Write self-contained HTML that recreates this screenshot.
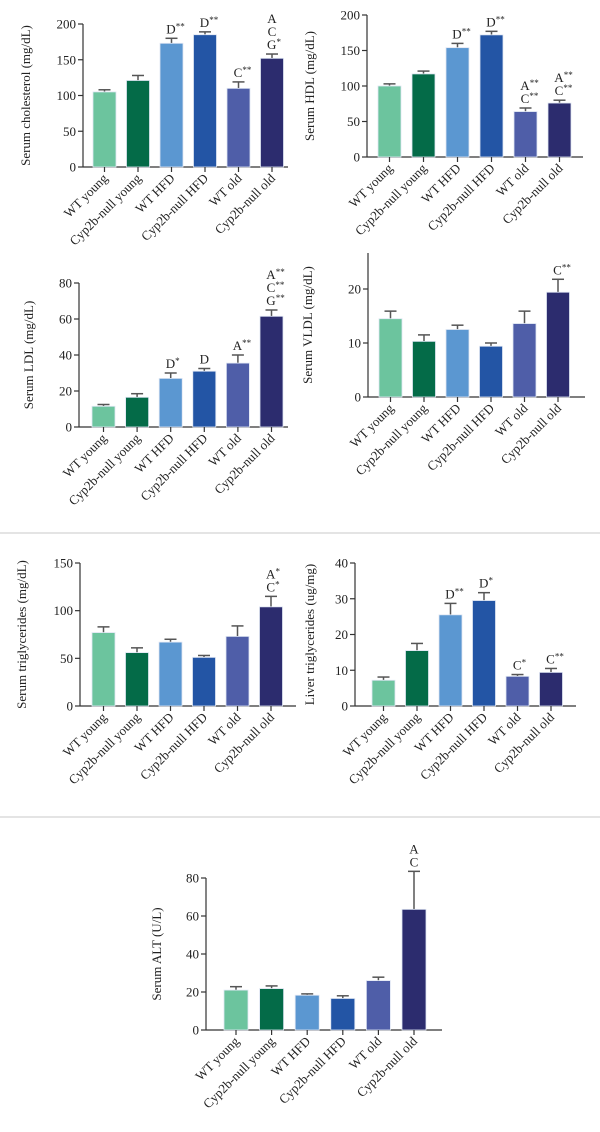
<!DOCTYPE html>
<html><head><meta charset="utf-8"><style>
html,body{margin:0;padding:0;background:#fff;}
svg{display:block;font-family:"Liberation Serif",serif;}
</style></head><body>
<svg id="root" width="600" height="1132" viewBox="0 0 600 1132" xmlns="http://www.w3.org/2000/svg">
<line x1="0" y1="533" x2="600" y2="533" stroke="#c8c8c8" stroke-width="1"/>
<line x1="0" y1="817" x2="600" y2="817" stroke="#c8c8c8" stroke-width="1"/>
</svg>
<script>
const categories = ["WT young","Cyp2b-null young","WT HFD","Cyp2b-null HFD","WT old","Cyp2b-null old"];
const colors = ["#6cc49e","#046b48","#5b97d1","#2355a5","#4f5ea8","#2c2c6e"];

const cholValues = [105,121,173,185,110,152];
const cholErrors = [3,7,7,4,9,6];
const cholTicks = [0,50,100,150,200];
const cholNotes = [[],[],["D**"],["D**"],["C**"],["A","C","G*"]];

const hdlValues = [100,117,154,172,64,76];
const hdlErrors = [3,4,6,5,5,4];
const hdlTicks = [0,50,100,150,200];
const hdlNotes = [[],[],["D**"],["D**"],["A**","C**"],["A**","C**"]];

const ldlValues = [11.5,16.5,27,31,35.5,61.5];
const ldlErrors = [1,2,3,1.5,4.5,3.5];
const ldlTicks = [0,20,40,60,80];
const ldlNotes = [[],[],["D*"],["D"],["A**"],["A**","C**","G**"]];

const vldlValues = [14.5,10.3,12.5,9.4,13.6,19.4];
const vldlErrors = [1.4,1.2,0.8,0.6,2.3,2.4];
const vldlTicks = [0,10,20];
const vldlNotes = [[],[],[],[],[],["C**"]];

const stgValues = [77,56,67,51,73,104];
const stgErrors = [6,5,3,2,11,11];
const stgTicks = [0,50,100,150];
const stgNotes = [[],[],[],[],[],["A*","C*"]];

const ltgValues = [7.2,15.5,25.5,29.5,8.3,9.4];
const ltgErrors = [0.9,2,3.2,2.2,0.5,1.1];
const ltgTicks = [0,10,20,30,40];
const ltgNotes = [[],[],["D**"],["D*"],["C*"],["C**"]];

const altValues = [21,21.8,18.3,16.6,26,63.5];
const altErrors = [1.8,1.4,0.7,1.4,1.8,20];
const altTicks = [0,20,40,60,80];
const altNotes = [[],[],[],[],[],["A","C"]];

const NS = "http://www.w3.org/2000/svg";
const root = document.getElementById("root");
function mk(tag, attrs, parent){
  const e = document.createElementNS(NS, tag);
  for (const k in attrs) e.setAttribute(k, attrs[k]);
  (parent||root).appendChild(e);
  return e;
}
function panel(name, title, titleX, L, values, errors, ticks, notes){
  const g = mk("g", {});
  
  
  const y = v => L.y0 - (v / L.max) * (L.y0 - L.yTop);
  const x = i => L.first + i * L.step;
  const topPx = L.axisTop !== undefined ? L.axisTop : y(ticks[ticks.length-1]);
  const ya = mk("line", {x1:L.ax, y1:topPx, x2:L.ax, y2:L.y0, stroke:"#333", "stroke-width":1.2}, g);
  
  
  const xa = mk("line", {x1:L.ax, y1:L.y0, x2:L.right, y2:L.y0, stroke:"#333", "stroke-width":1.2}, g);
  
  
  ticks.forEach(t => {
    mk("line", {x1:L.ax-5, y1:y(t), x2:L.ax, y2:y(t), stroke:"#333", "stroke-width":1.2}, g);
    const tl = mk("text", {x:L.ax-7, y:y(t)+4.5, "text-anchor":"end", "font-size":13, fill:"#222"}, g);
    tl.textContent = t;
    
    
  });
  const tt = mk("text", {x:titleX, y:(L.y0+topPx)/2, "text-anchor":"middle", "font-size":13, fill:"#222", transform:`rotate(-90 ${titleX} ${(L.y0+topPx)/2})`}, g);
  tt.textContent = title;
  
  
  values.forEach((v,i) => {
    const cx = x(i);
    const eTop = y(v + errors[i]);
    const el = mk("line", {x1:cx, y1:eTop, x2:cx, y2:y(v), stroke:"#555", "stroke-width":1.5}, g);
    
    
    mk("line", {x1:cx-6, y1:eTop, x2:cx+6, y2:eTop, stroke:"#555", "stroke-width":1.5}, g);
    const r = mk("rect", {x:cx-L.w/2, y:y(v), width:L.w, height:L.y0-y(v), fill:colors[i], stroke:"#dfe6f3", "stroke-width":0.8}, g);
    
    
    mk("line", {x1:cx, y1:L.y0, x2:cx, y2:L.y0+5, stroke:"#333", "stroke-width":1.2}, g);
    const lx = cx + 4, ly = L.y0 + 12;
    const lab = mk("text", {x:lx, y:ly, "text-anchor":"end", "font-size":13, fill:"#222", transform:`rotate(-45 ${lx} ${ly})`}, g);
    lab.textContent = categories[i];
    
    
    const n = notes[i];
    n.forEach((s,k) => {
      const by = eTop - 5 - (n.length-1-k) * 13;
      const letter = s.replace(/\*/g,"");
      const stars = s.slice(letter.length);
      const t = mk("text", {x:cx + (stars ? stars.length*2 : 0), y:by, "text-anchor":"middle", "font-size":13, fill:"#222"}, g);
      
      
      const a = mk("tspan", {}, t); a.textContent = letter;
      if (stars){ const b = mk("tspan", {"font-size":9, dy:-4}, t); b.textContent = stars; }
    });
  });
}
panel("serum-cholesterol-chart","Serum cholesterol (mg/dL)",30,{ax:83,right:288,y0:167,yTop:24,max:200,first:104.5,step:33.5,w:23},cholValues,cholErrors,cholTicks,cholNotes);
panel("serum-hdl-chart","Serum HDL (mg/dL)",314,{ax:367,right:583,y0:157,yTop:15,max:200,first:389.5,step:34,w:23},hdlValues,hdlErrors,hdlTicks,hdlNotes);
panel("serum-ldl-chart","Serum LDL (mg/dL)",33,{ax:79,right:288,y0:427,yTop:283,max:80,first:103.5,step:33.6,w:23},ldlValues,ldlErrors,ldlTicks,ldlNotes);
panel("serum-vldl-chart","Serum VLDL (mg/dL)",312,{ax:368,right:585,y0:397,yTop:289,max:20,first:390.5,step:33.5,w:23,axisTop:253},vldlValues,vldlErrors,vldlTicks,vldlNotes);
panel("serum-triglycerides-chart","Serum triglycerides (mg/dL)",26,{ax:80,right:296,y0:706,yTop:563,max:150,first:103.5,step:33.5,w:23},stgValues,stgErrors,stgTicks,stgNotes);
panel("liver-triglycerides-chart","Liver triglycerides (ug/mg)",314,{ax:355,right:576,y0:706,yTop:563,max:40,first:383.5,step:33.5,w:23},ltgValues,ltgErrors,ltgTicks,ltgNotes);
panel("serum-alt-chart","Serum ALT (U/L)",161,{ax:206,right:442,y0:1030,yTop:878,max:80,first:236,step:35.6,w:24},altValues,altErrors,altTicks,altNotes);
</script>
</body></html>
